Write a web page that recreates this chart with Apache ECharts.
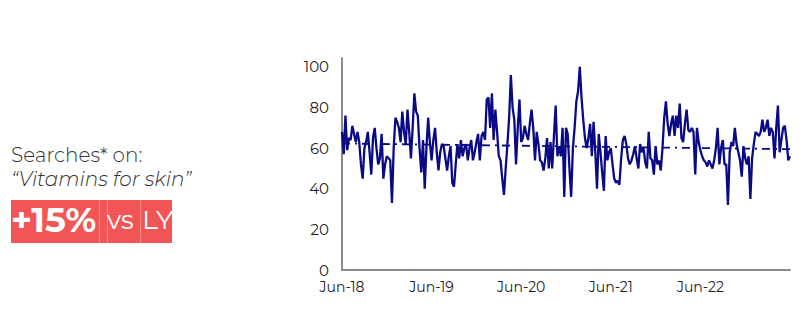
<!DOCTYPE html>
<html>
<head>
<meta charset="utf-8">
<script src="https://cdn.jsdelivr.net/npm/echarts@6/dist/echarts.min.js"></script>
<style>
html,body{margin:0;padding:0;background:#fff;}
#chart{width:803px;height:326px;}
</style>
</head>
<body>
<div id="chart"></div>
<script>
// ---- data ----
const tickLabels = ["Jun-18", "Jun-19", "Jun-20", "Jun-21", "Jun-22"];
const weeksPerTick = 52;
const searches = [
68,57,76,59,65,64,71,67,63,68,63,52,45,60,63,68,58,47,65,70,
60,52,55,67,45,52,56,55,54,33,60,75,73,70,63,78,68,62,79,68,
55,70,87,78,76,60,48,64,40,60,75,63,54,64,70,58,49,58,62,61,
55,49,56,61,43,41,52,62,55,64,56,60,62,54,60,64,54,58,63,67,
54,66,68,64,84,85,70,87,64,79,68,56,54,45,37,50,62,75,96,80,
74,52,70,84,63,65,71,67,64,72,79,70,54,68,62,54,53,49,55,65,
50,63,50,66,81,56,61,56,70,36,70,67,50,36,60,70,83,88,100,85,
74,65,60,65,72,56,73,58,40,67,58,48,39,66,54,58,60,52,45,43,
44,42,55,64,66,62,55,52,54,57,61,55,50,62,58,60,53,50,68,55,
54,47,61,52,54,49,60,75,83,72,66,72,76,66,76,70,82,65,63,72,
79,69,68,70,68,47,70,63,59,56,54,53,51,54,52,50,54,60,70,52,
60,64,52,52,32,58,63,61,70,62,58,54,46,61,55,52,56,35,55,62,
68,67,66,68,74,68,70,74,66,70,68,55,70,81,58,64,70,71,64,54,
56
];
const trendStart = 62.3;
const trendEnd = 59.5;
const headline = "Searches* on:";
const topic = "\u201cVitamins for skin\u201d";
const changeValue = "+15%";
const changeVs = "vs";
const changeRef = "LY";

// ---- chart ----
const FONT = "Montserrat, 'Noto Sans', 'Open Sans', sans-serif";
const NAVY = "#0a0a86";
const RED = "#f25555";
const lastIdx = searches.length - 1;

const chart = echarts.init(document.getElementById('chart'), null, {renderer: 'svg'});
chart.setOption({
  animation: false,
  backgroundColor: '#ffffff',
  grid: {left: 342, right: 13, top: 58, bottom: 56},
  xAxis: {
    type: 'value',
    min: 0,
    max: lastIdx,
    interval: weeksPerTick,
    axisLine: {show: true, lineStyle: {color: '#8a8a8a', width: 2}},
    axisTick: {show: false},
    splitLine: {show: false},
    axisLabel: {
      color: '#222', fontFamily: FONT, fontSize: 14, margin: 10,
      formatter: v => (v % weeksPerTick === 0 && tickLabels[v / weeksPerTick] !== undefined) ? tickLabels[v / weeksPerTick] : ''
    }
  },
  yAxis: {
    type: 'value',
    min: 0,
    max: 104.4,
    interval: 20,
    axisLine: {show: true, lineStyle: {color: '#8a8a8a', width: 2}},
    axisTick: {show: false},
    splitLine: {show: false},
    axisLabel: {color: '#222', fontFamily: FONT, fontSize: 15, margin: 13, showMaxLabel: false}
  },
  series: [{
    type: 'line',
    data: searches.map((v, i) => [i, v]),
    symbol: 'none',
    lineStyle: {color: NAVY, width: 2.3},
    markLine: {
      silent: true,
      symbol: ['none', 'none'],
      label: {show: false},
      lineStyle: {color: NAVY, width: 1.8, type: [8, 5, 2, 5]},
      data: [[{coord: [0, trendStart]}, {coord: [lastIdx, trendEnd]}]]
    }
  }],
  graphic: [
    {type: 'text', left: 11, top: 145, style: {text: headline, font: '300 20px ' + FONT, fill: '#333'}},
    {type: 'text', left: 11, top: 169, style: {text: topic, font: 'italic 300 20px ' + FONT, fill: '#333'}},
    {type: 'rect', shape: {x: 11, y: 200, width: 161, height: 43}, style: {fill: RED}},
    {type: 'line', shape: {x1: 99.5, y1: 200, x2: 99.5, y2: 243}, style: {stroke: '#f78a8a', lineWidth: 1}},
    {type: 'line', shape: {x1: 107.5, y1: 200, x2: 107.5, y2: 243}, style: {stroke: '#f78a8a', lineWidth: 1}},
    {type: 'line', shape: {x1: 140.5, y1: 200, x2: 140.5, y2: 243}, style: {stroke: '#f78a8a', lineWidth: 1}},
    {type: 'text', left: 11, top: 202, style: {text: changeValue, font: 'bold 35px ' + FONT, fill: '#fff'}},
    {type: 'text', left: 107, top: 207, style: {text: changeVs, font: '26px ' + FONT, fill: '#fff'}},
    {type: 'text', left: 142, top: 206, style: {text: changeRef, font: '27px ' + FONT, fill: '#fff'}}
  ]
});
</script>
</body>
</html>
